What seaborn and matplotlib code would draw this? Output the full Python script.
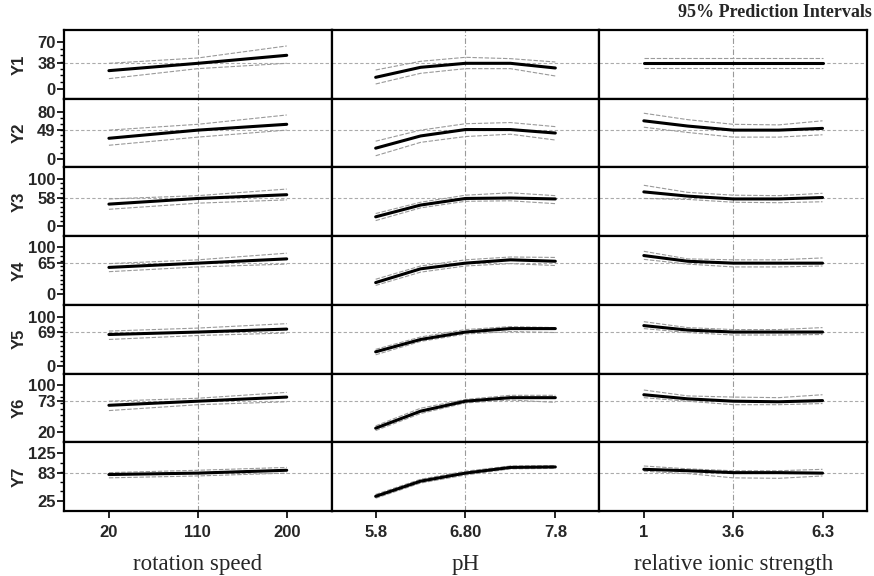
import numpy as np
import pandas as pd
import matplotlib
matplotlib.use('Agg')
import matplotlib.pyplot as plt
import seaborn as sns
from matplotlib.ticker import FixedLocator

# responses and their current (predicted) values
responses = ['Y1', 'Y2', 'Y3', 'Y4', 'Y5', 'Y6', 'Y7']
current = [38, 49, 58, 65, 69, 73, 83]
tick_low = [0, 0, 0, 0, 0, 20, 25]
tick_high = [70, 80, 100, 100, 100, 100, 125]
y_limits = [(-15, 88), (-15, 103), (-22, 124), (-23, 122), (-15, 124), (3, 120), (3, 148)]
minor_step = [10, 10, 10, 10, 10, 10, 20]

# factors
factors = ['rotation speed', 'pH', 'relative ionic strength']
speed_x = [20, 110, 200]
ph_x = [5.8, 6.3, 6.8, 7.3, 7.8]
ionic_x = [1, 2.3, 3.65, 5.0, 6.3]
x_ticks = [[20, 110, 200], [5.8, 6.8, 7.8], [1, 3.65, 6.3]]
x_ticklabels = [['20', '110', '200'], ['5.8', '6.80', '7.8'], ['1', '3.6', '6.3']]
x_limits = [(-25.5, 245.5), (5.31, 8.29), (-0.32, 7.62)]

# rotation speed profiles (rows Y1..Y7)
speed_pred = [[27, 38, 50], [35, 49, 59], [46, 58, 66], [56, 65, 74],
              [64, 69, 75], [66, 73, 80], [80, 83, 89]]
speed_hi = [[38, 46, 64], [49, 59, 75], [57, 64, 78], [64, 72, 86],
            [71, 77, 86], [73, 78, 88], [84, 89, 95]]
speed_lo = [[15, 30, 38], [23, 37, 49], [35, 48, 55], [47, 57, 63],
            [54, 62, 67], [57, 67, 72], [73, 77, 83]]

# pH profiles
ph_pred = [[17, 32, 38, 38, 31], [18, 39, 50, 50, 44], [19, 44, 58, 59, 57],
           [24, 53, 65, 72, 69], [29, 54, 69, 76, 76], [27, 56, 73, 79, 79],
           [34, 66, 83, 95, 96]]
ph_hi = [[28, 41, 47, 45, 40], [30, 49, 60, 62, 55], [26, 50, 65, 70, 64],
         [31, 59, 72, 78, 77], [34, 59, 74, 80, 78], [31, 61, 76, 83, 83],
         [38, 70, 87, 98, 99]]
ph_lo = [[7, 23, 30, 30, 19], [5, 28, 38, 42, 32], [11, 38, 52, 53, 47],
         [18, 46, 59, 64, 60], [23, 50, 65, 70, 68], [23, 52, 70, 75, 71],
         [30, 62, 79, 92, 93]]

# relative ionic strength profiles
ionic_pred = [[38, 38, 38, 38, 38], [65, 56, 49, 49, 52], [72, 63, 57, 57, 60],
              [81, 69, 65, 65, 65], [82, 73, 69, 69, 69], [84, 77, 73, 72, 74],
              [91, 88, 84, 84, 83]]
ionic_hi = [[46, 46, 46, 46, 46], [78, 67, 59, 58, 65], [86, 71, 65, 64, 69],
            [90, 74, 72, 72, 76], [90, 78, 74, 74, 78], [92, 82, 80, 79, 84],
            [98, 92, 88, 88, 91]]
ionic_lo = [[31, 31, 31, 31, 31], [54, 45, 37, 37, 41], [58, 56, 50, 49, 51],
            [73, 63, 57, 57, 59], [76, 68, 63, 63, 64], [79, 73, 67, 67, 69],
            [87, 82, 73, 72, 77]]

xs = [speed_x, ph_x, ionic_x]
preds = [speed_pred, ph_pred, ionic_pred]
his = [speed_hi, ph_hi, ionic_hi]
los = [speed_lo, ph_lo, ionic_lo]

sns.set_style('white')
plt.rcParams['font.family'] = ['Liberation Sans Narrow', 'Liberation Sans', 'DejaVu Sans']

fig, axes = plt.subplots(7, 3, figsize=(8.74, 5.76), dpi=100)
fig.subplots_adjust(left=0.0732, right=0.992, top=0.948, bottom=0.1128,
                    hspace=0, wspace=0)

for r in range(7):
    for c in range(3):
        ax = axes[r, c]
        df = pd.DataFrame({'x': xs[c], 'pred': preds[c][r],
                           'hi': his[c][r], 'lo': los[c][r]})
        # reference lines
        ax.axhline(current[r], color='#ababab', lw=0.8, ls=(0, (3, 2)), zorder=1)
        ax.axvline(x_ticks[c][1], color='#9a9a9a', lw=0.8, ls=(0, (5, 2, 1, 2)), zorder=1)
        # intervals and prediction
        sns.lineplot(data=df, x='x', y='hi', ax=ax, color='#9a9a9a', lw=0.8,
                     ls=(0, (4, 1.5)), zorder=2)
        sns.lineplot(data=df, x='x', y='lo', ax=ax, color='#9a9a9a', lw=0.8,
                     ls=(0, (4, 1.5)), zorder=2)
        sns.lineplot(data=df, x='x', y='pred', ax=ax, color='black', lw=2.2, zorder=3)

        ax.set_xlim(x_limits[c])
        ax.set_ylim(y_limits[r])
        ax.set_xlabel('')
        ax.set_ylabel('')
        for sp in ax.spines.values():
            sp.set_color('black')
            sp.set_linewidth(1.6)

        if c == 0:
            ax.set_yticks([tick_low[r], current[r], tick_high[r]])
            ax.set_yticklabels([str(tick_low[r]), str(current[r]), str(tick_high[r])],
                               fontweight='bold', fontsize=12)
            minors = [v for v in np.arange(tick_low[r], tick_high[r], minor_step[r])
                      if v != tick_low[r]]
            ax.yaxis.set_minor_locator(FixedLocator(minors))
            ax.tick_params(axis='y', which='major', left=True, length=5, width=1.2,
                           pad=1, color='black')
            ax.tick_params(axis='y', which='minor', left=True, length=3, width=1,
                           color='black')
            ax.set_ylabel(responses[r], fontweight='bold', fontsize=12)
            ax.yaxis.set_label_coords(-0.14, 0.5)
        else:
            ax.set_yticks([])

        if r == 6:
            ax.set_xticks(x_ticks[c])
            ax.set_xticklabels(x_ticklabels[c], fontweight='bold', fontsize=12)
            ax.tick_params(axis='x', bottom=True, length=5, width=1.2, pad=5,
                           color='black')
            ax.set_xlabel(factors[c], family=['Liberation Serif', 'DejaVu Serif'],
                          fontsize=16.5)
            ax.xaxis.set_label_coords(0.5, -0.62)
        else:
            ax.set_xticks([])

fig.text(0.998, 0.979, '95% Prediction Intervals', ha='right', va='center',
         family=['Liberation Serif', 'DejaVu Serif'], fontweight='bold', fontsize=13)

fig.savefig('out.png', dpi=100)
